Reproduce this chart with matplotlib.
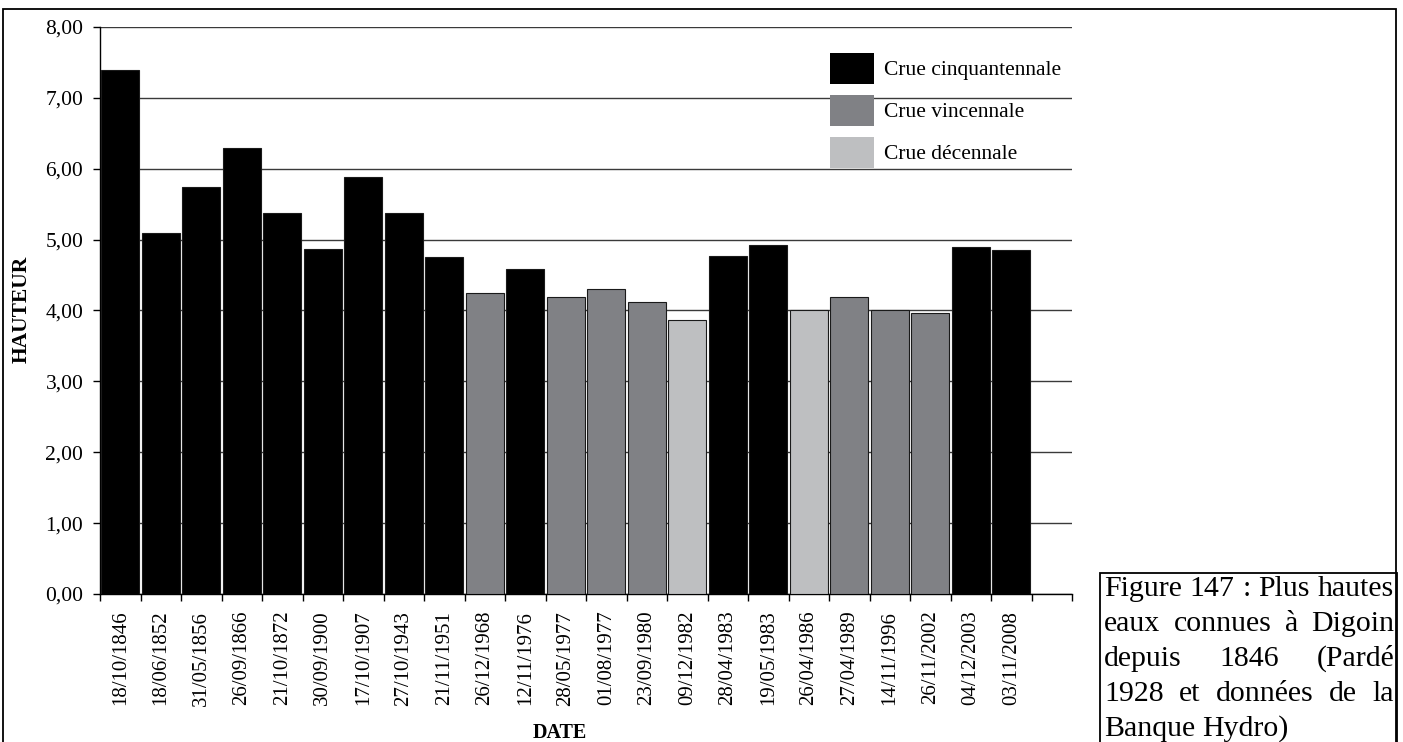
import numpy as np
import matplotlib.pyplot as plt
from matplotlib.patches import Patch, Rectangle

# Plus hautes eaux connues a Digoin
dates = ["18/10/1846", "18/06/1852", "31/05/1856", "26/09/1866", "21/10/1872",
         "30/09/1900", "17/10/1907", "27/10/1943", "21/11/1951", "26/12/1968",
         "12/11/1976", "28/05/1977", "01/08/1977", "23/09/1980", "09/12/1982",
         "28/04/1983", "19/05/1983", "26/04/1986", "27/04/1989", "14/11/1996",
         "26/11/2002", "04/12/2003", "03/11/2008"]
hauteurs = [7.40, 5.09, 5.74, 6.29, 5.38, 4.87, 5.88, 5.37, 4.75, 4.24,
            4.58, 4.19, 4.31, 4.12, 3.87, 4.77, 4.92, 4.01, 4.19, 4.00,
            3.96, 4.89, 4.85]
types_crue = ["cinq"] * 9 + ["vinc", "cinq", "vinc", "vinc", "vinc", "dec",
                             "cinq", "cinq", "dec", "vinc", "vinc", "vinc",
                             "cinq", "cinq"]
legende = {"cinq": "Crue cinquantennale",
           "vinc": "Crue vincennale",
           "dec": "Crue décennale"}
couleurs = {"cinq": "#000000", "vinc": "#808185", "dec": "#bebfc1"}

caption_lines = ["Figure 147 : Plus hautes",
                 "eaux connues à Digoin",
                 "depuis 1846 (Pardé",
                 "1928 et données de la",
                 "Banque Hydro)"]

plt.rcParams['font.family'] = ['Liberation Serif', 'DejaVu Serif']

W, H = 1403, 742
fig = plt.figure(figsize=(W / 100, H / 100), dpi=100)
ax = fig.add_axes([100 / W, 1 - 594 / H, 972 / W, 567 / H])

x = np.arange(len(dates)) + 0.5
ax.bar(x, hauteurs, width=0.93, color=[couleurs[t] for t in types_crue],
       edgecolor="#1a1a1a", linewidth=0.8, zorder=3)

ax.set_xlim(0, 24)
ax.set_ylim(0, 8)

# y axis
yt = np.arange(0, 9)
ax.set_yticks(yt)
ax.set_yticklabels([f"{v:.2f}".replace(".", ",") for v in yt], fontsize=15.5)
ax.tick_params(axis="y", length=5, width=1, pad=7)
ax.yaxis.grid(True, color="#3a3a3a", linewidth=1.0)
ax.set_axisbelow(True)

# x axis: ticks at slot borders, labels at centers
ax.set_xticks(np.arange(0, 25))
ax.set_xticklabels([])
ax.tick_params(axis="x", which="major", length=5, width=1)
ax.set_xticks(x, minor=True)
ax.set_xticklabels(dates, minor=True, rotation=90, fontsize=15)
ax.tick_params(axis="x", which="minor", length=0, pad=12)

for s in ["top", "right"]:
    ax.spines[s].set_visible(False)
for s in ["left", "bottom"]:
    ax.spines[s].set_linewidth(1.0)

# legend
handles = [Patch(facecolor=couleurs[k], edgecolor="none", label=legende[k])
           for k in ["cinq", "vinc", "dec"]]
fig.legend(handles=handles, loc="upper left",
           bbox_to_anchor=(830 / W, 1 - 53 / H), frameon=False,
           fontsize=15.5, handlelength=2.05, handleheight=1.84,
           labelspacing=0.5, handletextpad=0.47, borderpad=0,
           borderaxespad=0)

# axis titles
fig.text(22 / W, 1 - 309 / H, "HAUTEUR", rotation=90, fontsize=15.5,
         fontweight="bold", ha="center", va="center")
fig.text(560 / W, 1 - 733 / H, "DATE", fontsize=14.5, fontweight="bold",
         ha="center", va="center")

# outer frame and caption box
fig.add_artist(Rectangle((3 / W, -0.02), (1396 - 3) / W, 1 - 9 / H + 0.02,
                         transform=fig.transFigure, fill=False,
                         edgecolor="black", linewidth=1.3))
fig.add_artist(Rectangle((1100 / W, -0.02), (1397 - 1100) / W,
                         (742 - 573) / H + 0.02,
                         transform=fig.transFigure, fill=False,
                         edgecolor="black", linewidth=1.3))

# justified caption text
renderer = fig.canvas.get_renderer()
left_px, right_px = 1104, 1394
for i, line in enumerate(caption_lines):
    base_y = 1 - (596 + 35 * i) / H
    words = line.split(" ")
    texts = [fig.text(left_px / W, base_y, w, fontsize=21.5, ha="left",
                      va="baseline") for w in words]
    widths = [t.get_window_extent(renderer).width for t in texts]
    if i < len(caption_lines) - 1 and len(words) > 1:
        gap = (right_px - left_px - sum(widths)) / (len(words) - 1)
    else:
        gap = renderer.points_to_pixels(21.5) * 0.25
    pos = left_px
    for t, w in zip(texts, widths):
        t.set_x(pos / W)
        pos += w + gap

fig.savefig("out.png", dpi=100)
